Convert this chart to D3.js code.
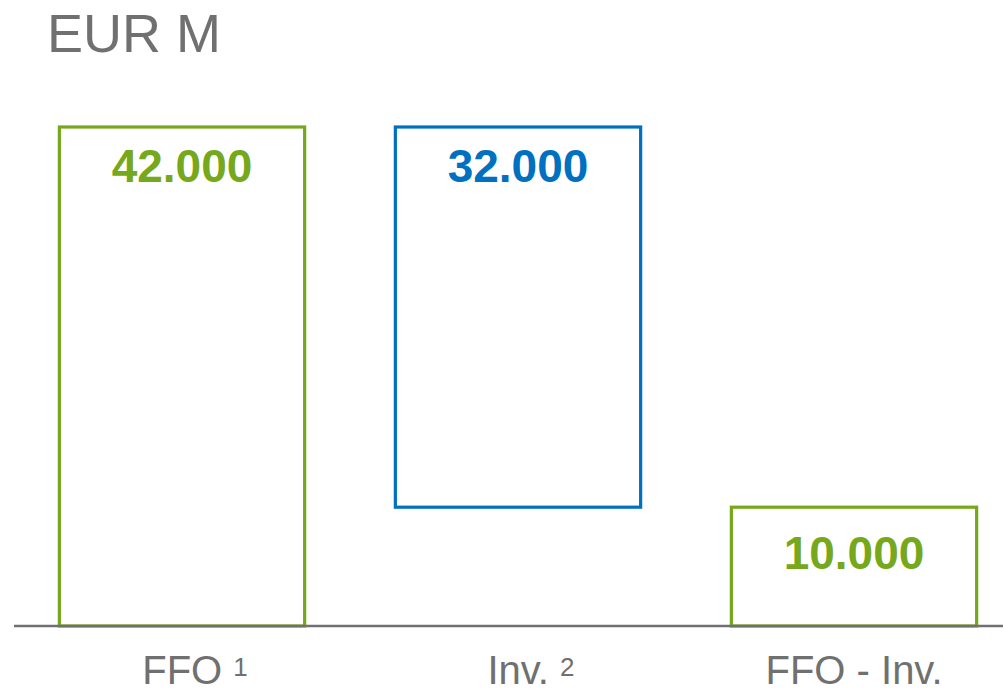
<!DOCTYPE html>
<html>
<head>
<meta charset="utf-8">
<script src="https://cdn.jsdelivr.net/npm/d3@7"></script>
<style>
  body { margin: 0; background: #fff; }
  text { font-family: "Liberation Sans", Arial, sans-serif; }
</style>
</head>
<body>
<script>
// chart data
var categories = ["FFO", "Inv.", "FFO - Inv."];
var footnotes = ["1", "2", ""];
var values = [42000, -32000, 10000];
var kinds = ["total", "delta", "total"];

var width = 1003, height = 689;
var baseY = 626;

var svg = d3.select("body")
            .append("svg")
            .attr("width", width)
            .attr("height", height);

// running totals for the waterfall
var bars = [];
var running = 0;
values.forEach(function (v, i) {
  var from, to;
  if (kinds[i] == "total") { from = 0; to = v; running = v; }
  else { from = running; to = running + v; running = to; }
  bars.push({ name: categories[i], note: footnotes[i], value: v, kind: kinds[i],
              lo: Math.min(from, to), hi: Math.max(from, to) });
});

var x = d3.scaleBand()
          .domain(categories)
          .range([14, 1022])
          .paddingInner(0.27)
          .paddingOuter(0.135);

var y = d3.scaleLinear()
          .domain([0, 42000])
          .range([baseY, 127]);

var color = d3.scaleOrdinal()
              .domain(["total", "delta"])
              .range(["#76a81c", "#0070c0"]);

var de = d3.formatLocale({ decimal: ",", thousands: ".", grouping: [3], currency: ["", " €"] });
var fmt = de.format(",d");

// unit title
svg.append("text")
   .attr("x", 47)
   .attr("y", 52)
   .attr("font-size", 54)
   .attr("fill", "#707070")
   .text("EUR M");

// bars (outlined boxes)
svg.selectAll("rect.bar")
   .data(bars)
   .enter()
   .append("rect")
   .attr("class", "bar")
   .attr("x", function (d) { return x(d.name); })
   .attr("y", function (d) { return y(d.hi); })
   .attr("width", x.bandwidth())
   .attr("height", function (d) { return y(d.lo) - y(d.hi); })
   .attr("fill", "none")
   .attr("stroke", function (d) { return color(d.kind); })
   .attr("stroke-width", 3.2);

// baseline
svg.append("line")
   .attr("x1", 14)
   .attr("x2", width)
   .attr("y1", baseY)
   .attr("y2", baseY)
   .attr("stroke", "#707070")
   .attr("stroke-width", 2.5);

// value labels
svg.selectAll("text.val")
   .data(bars)
   .enter()
   .append("text")
   .attr("class", "val")
   .attr("x", function (d) { return x(d.name) + x.bandwidth() / 2; })
   .attr("y", function (d) { return y(d.hi) + (d.hi < 20000 ? 62 : 55); })
   .attr("text-anchor", "middle")
   .attr("font-size", 46)
   .attr("font-weight", "bold")
   .attr("fill", function (d) { return color(d.kind); })
   .text(function (d) { return fmt(Math.abs(d.value)); });

// category labels with footnote marks
var cat = svg.selectAll("text.cat")
   .data(bars)
   .enter()
   .append("text")
   .attr("class", "cat")
   .attr("x", function (d) { return x(d.name) + x.bandwidth() / 2 + (d.note ? 13 : 0); })
   .attr("y", 684)
   .attr("text-anchor", "middle")
   .attr("font-size", 40)
   .attr("fill", "#707070");

cat.append("tspan")
   .text(function (d) { return d.name + (d.note ? " " : ""); });

cat.append("tspan")
   .attr("font-size", 26)
   .attr("dy", -8)
   .text(function (d) { return d.note; });
</script>
</body>
</html>
